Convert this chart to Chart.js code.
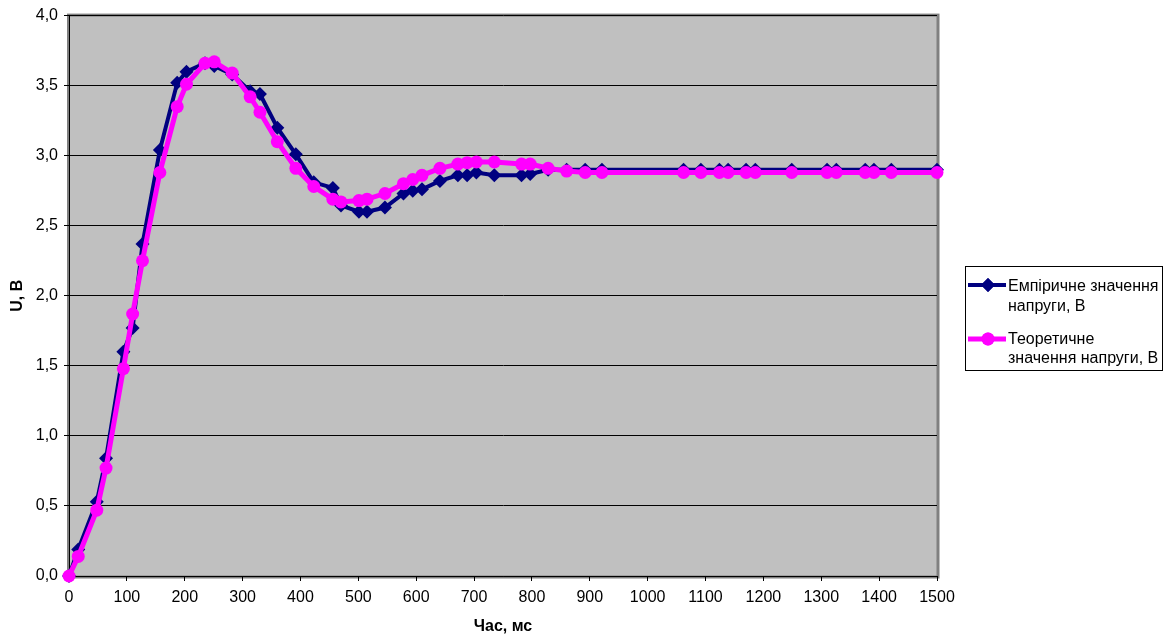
<!DOCTYPE html>
<html>
<head>
<meta charset="utf-8">
<script src="https://cdn.jsdelivr.net/npm/chart.js@4.4.1/dist/chart.umd.min.js"></script>
<style>
  html, body { margin: 0; padding: 0; background: #fff; }
</style>
</head>
<body>
<canvas id="voltageChart" width="1170" height="637"></canvas>
<script>
// time points, ms (shared by both series)
const timeMs = [0, 16, 48, 64, 94, 110, 127, 157, 187, 203,
  235, 251, 282, 313, 330, 360, 392, 423, 456, 470,
  501, 515, 546, 578, 594, 610, 641, 672, 688, 704,
  735, 782, 797, 828, 860, 892, 921, 1062, 1092, 1124,
  1139, 1170, 1186, 1249, 1310, 1326, 1376, 1391, 1421, 1500];

// empirical voltage, V
const empirical = [0, 0.19, 0.53, 0.84, 1.60, 1.77, 2.37, 3.04, 3.52, 3.60,
  3.66, 3.64, 3.58, 3.46, 3.44, 3.20, 3.01, 2.81, 2.77, 2.645,
  2.60, 2.60, 2.63, 2.73, 2.75, 2.76, 2.82, 2.86, 2.86, 2.88,
  2.86, 2.86, 2.87, 2.90, 2.90, 2.90, 2.90, 2.90, 2.90, 2.90,
  2.90, 2.90, 2.90, 2.90, 2.90, 2.90, 2.90, 2.90, 2.90, 2.90];

// theoretical voltage, V
const theoretical = [0, 0.14, 0.47, 0.77, 1.48, 1.87, 2.25, 2.88, 3.35, 3.51,
  3.66, 3.67, 3.59, 3.42, 3.31, 3.10, 2.91, 2.78, 2.69, 2.67,
  2.68, 2.69, 2.73, 2.80, 2.83, 2.86, 2.91, 2.94, 2.95, 2.955,
  2.955, 2.94, 2.94, 2.91, 2.89, 2.88, 2.88, 2.88, 2.88, 2.88,
  2.88, 2.88, 2.88, 2.88, 2.88, 2.88, 2.88, 2.88, 2.88, 2.88];

const yTickLabels = ['0,0', '0,5', '1,0', '1,5', '2,0', '2,5', '3,0', '3,5', '4,0'];
const seriesNames = [['Емпіричне значення', 'напруги, В'], ['Теоретичне', 'значення напруги, В']];

const NAVY = '#000080';
const PINK = '#FF00FF';
const FONT = 'Liberation Sans, Arial, sans-serif';

const toPoints = (ys) => timeMs.map((t, i) => ({ x: t, y: ys[i] }));

// grey plot area with the Excel-like frame
const plotFrame = {
  id: 'plotFrame',
  beforeDraw(chart) {
    const { ctx, chartArea: a } = chart;
    ctx.save();
    ctx.fillStyle = '#C0C0C0';
    ctx.fillRect(a.left, a.top, a.right - a.left, a.bottom - a.top);
    ctx.strokeStyle = '#808080';
    ctx.lineWidth = 3;
    ctx.strokeRect(a.left - 0.5, a.top - 0.5, a.right - a.left + 1.5, a.bottom - a.top + 1.5);
    ctx.restore();
  }
};

// boxed legend with two-line labels
const boxLegend = {
  id: 'boxLegend',
  afterDraw(chart) {
    const ctx = chart.ctx;
    ctx.save();
    ctx.fillStyle = '#fff';
    ctx.fillRect(965.5, 266.5, 197, 104);
    ctx.strokeStyle = '#000';
    ctx.lineWidth = 1;
    ctx.strokeRect(965.5, 266.5, 197, 104);

    const rows = [
      { y: 285, color: NAVY, width: 4, style: 'rectRot', r: 7, texts: seriesNames[0], ty: [287, 307] },
      { y: 339, color: PINK, width: 5, style: 'circle', r: 6.5, texts: seriesNames[1], ty: [340, 359] }
    ];
    rows.forEach(row => {
      ctx.strokeStyle = row.color;
      ctx.lineWidth = row.width;
      ctx.beginPath();
      ctx.moveTo(968, row.y);
      ctx.lineTo(1006, row.y);
      ctx.stroke();
      ctx.fillStyle = row.color;
      Chart.helpers.drawPoint(ctx, { pointStyle: row.style, radius: row.r, borderWidth: 0 }, 988, row.y);
      ctx.fill();
      ctx.fillStyle = '#000';
      ctx.font = '16px ' + FONT;
      ctx.textAlign = 'left';
      ctx.textBaseline = 'middle';
      row.texts.forEach((t, i) => ctx.fillText(t, 1008, row.ty[i]));
    });
    ctx.restore();
  }
};

const ctx = document.getElementById('voltageChart').getContext('2d');

new Chart(ctx, {
  type: 'line',
  data: {
    datasets: [{
      label: 'Емпіричне значення напруги, В',
      data: toPoints(empirical),
      borderColor: NAVY,
      backgroundColor: NAVY,
      borderWidth: 4,
      pointStyle: 'rectRot',
      pointRadius: 7,
      pointBorderWidth: 0,
      pointBackgroundColor: NAVY,
      tension: 0,
      clip: false,
      order: 2
    }, {
      label: 'Теоретичне значення напруги, В',
      data: toPoints(theoretical),
      borderColor: PINK,
      backgroundColor: PINK,
      borderWidth: 5,
      pointStyle: 'circle',
      pointRadius: 6.5,
      pointBorderWidth: 0,
      pointBackgroundColor: PINK,
      tension: 0,
      clip: false,
      order: 1
    }]
  },
  options: {
    responsive: false,
    animation: false,
    layout: { padding: { top: 15, right: 233, left: 0, bottom: 0 } },
    plugins: {
      legend: { display: false },
      tooltip: { enabled: false }
    },
    scales: {
      x: {
        type: 'linear',
        min: 0,
        max: 1500,
        afterFit: (scale) => { scale.height = 61; },
        ticks: {
          stepSize: 100,
          color: '#000',
          padding: 7,
          maxRotation: 0,
          font: { family: FONT, size: 16 },
          callback: (value) => String(value)
        },
        grid: {
          drawOnChartArea: false,
          drawTicks: true,
          tickLength: 5,
          tickColor: '#000'
        },
        border: { color: '#000', width: 1 },
        title: {
          display: true,
          text: 'Час, мс',
          color: '#000',
          font: { family: FONT, size: 16, weight: 'bold' },
          padding: { top: 0, bottom: 1 }
        }
      },
      y: {
        min: 0,
        max: 4,
        afterFit: (scale) => { scale.width = 69; },
        ticks: {
          stepSize: 0.5,
          color: '#000',
          padding: 6,
          font: { family: FONT, size: 16 },
          callback: (value) => yTickLabels[Math.round(value * 2)]
        },
        grid: {
          color: '#000',
          lineWidth: 1,
          drawTicks: true,
          tickLength: 5,
          tickColor: '#000'
        },
        border: { color: '#000', width: 1 },
        title: {
          display: true,
          text: 'U, В',
          color: '#000',
          font: { family: FONT, size: 16, weight: 'bold' },
          padding: { top: 8, bottom: 0 }
        }
      }
    }
  },
  plugins: [plotFrame, boxLegend]
});
</script>
</body>
</html>
